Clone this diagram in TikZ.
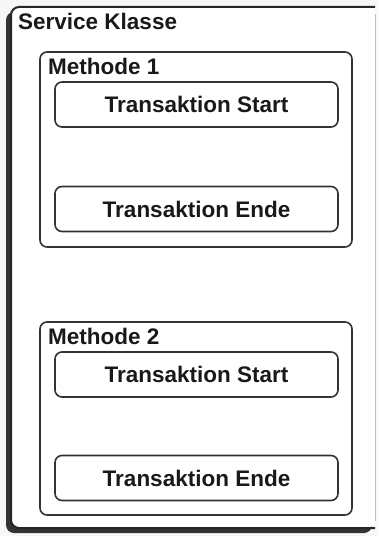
\documentclass[tikz,border=0pt]{standalone}
\usepackage{fontspec}
\setmainfont{Liberation Sans}
\begin{document}
\begin{tikzpicture}[x=1bp,y=-1bp,
  every node/.style={font=\fontsize{22.5bp}{26bp}\selectfont\bfseries, text=black!90},
  methodbox/.style={draw=black!80, line width=1.6bp, rounded corners=7bp, fill=white},
  txbox/.style={draw=black!80, line width=1.6bp, rounded corners=7bp, fill=white,
    minimum width=283bp, minimum height=45bp, inner sep=0pt},
  caption/.style={anchor=base west, inner sep=0pt}
]
\useasboundingbox (0,0) rectangle (378,536);
\fill[black!3] (0,0) rectangle (378,536);
% drop shadow of the service class along its left and lower edge
\fill[black!80, rounded corners=8bp] (6,12) rectangle (372,533);
% service class: white body, dark top/left/bottom, faint right edge
\fill[white, rounded corners=8bp] (11,7) rectangle (375,528);
\draw[black!25, line width=1bp] (375,14) -- (375,521);
\draw[black!85, line width=2bp, rounded corners=8bp]
  (375,528) -- (11,528) -- (11,7) -- (375,7);
\node[caption] (svc) at (18,30) {Service Klasse};
% method 1
\draw[methodbox] (40,52) rectangle (352,247);
\node[caption] (m1) at (48,75) {Methode 1};
\node[txbox] (ts1) at (196.5,104.5) {Transaktion Start};
\node[txbox] (te1) at (196.5,209) {Transaktion Ende};
% method 2
\draw[methodbox] (40,322) rectangle (352,515);
\node[caption] (m2) at (48,344) {Methode 2};
\node[txbox] (ts2) at (196.5,374.5) {Transaktion Start};
\node[txbox] (te2) at (196.5,478) {Transaktion Ende};
\end{tikzpicture}
\end{document}
